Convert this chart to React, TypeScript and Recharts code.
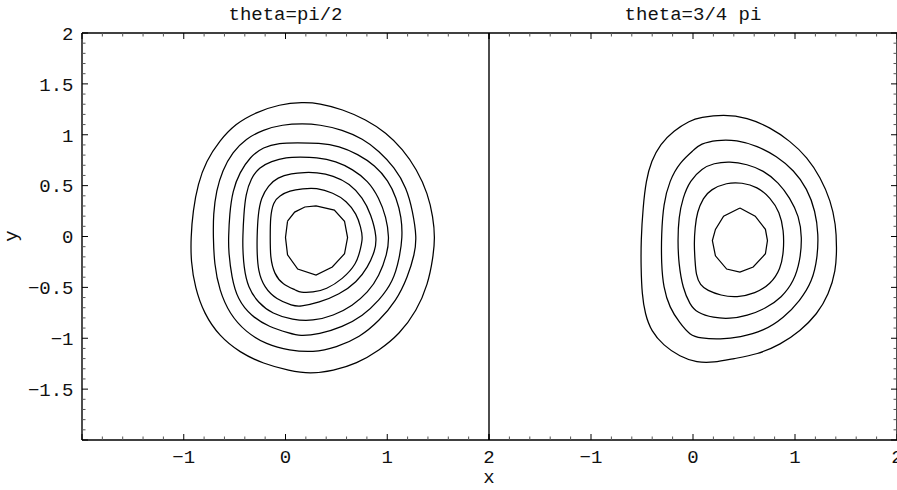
import React from 'react';
import { LineChart, Line, XAxis, YAxis } from 'recharts';

type Pt = [number, number];

// Contour levels for theta = pi/2, outermost first
const halfPiLevel1: Pt[] = [
  [0.17, 1.32], [0.33, 1.31], [0.56, 1.25], [0.79, 1.15], [0.99, 1.02], [1.15, 0.86], [1.29, 0.66],
  [1.4, 0.42], [1.45, 0.19], [1.47, -0.01], [1.45, -0.21], [1.4, -0.47], [1.29, -0.73], [1.12, -0.96],
  [0.92, -1.12], [0.7, -1.25], [0.47, -1.32], [0.24, -1.35], [0.04, -1.32], [-0.22, -1.25], [-0.45, -1.14],
  [-0.65, -0.98], [-0.8, -0.76], [-0.89, -0.5], [-0.93, -0.24], [-0.93, -0.01], [-0.91, 0.25], [-0.86, 0.52],
  [-0.78, 0.74], [-0.65, 0.94], [-0.49, 1.11], [-0.29, 1.22], [-0.06, 1.3],
];
const halfPiLevel2: Pt[] = [
  [0.17, 1.11], [0.33, 1.1], [0.56, 1.05], [0.76, 0.96], [0.92, 0.84], [1.07, 0.68], [1.19, 0.48],
  [1.25, 0.25], [1.29, -0.01], [1.27, -0.17], [1.2, -0.4], [1.09, -0.63], [0.92, -0.83], [0.73, -0.99],
  [0.5, -1.09], [0.27, -1.14], [0.04, -1.12], [-0.19, -1.06], [-0.39, -0.94], [-0.55, -0.76], [-0.65, -0.53],
  [-0.7, -0.27], [-0.71, -0.01], [-0.71, 0.22], [-0.68, 0.45], [-0.62, 0.65], [-0.52, 0.83], [-0.39, 0.96],
  [-0.22, 1.05], [-0.03, 1.1],
];
const halfPiLevel3: Pt[] = [
  [0.11, 0.92], [0.33, 0.92], [0.53, 0.89], [0.71, 0.81], [0.88, 0.7], [1.01, 0.55], [1.09, 0.38],
  [1.14, 0.19], [1.15, -0.01], [1.12, -0.21], [1.06, -0.44], [0.92, -0.63], [0.76, -0.78], [0.56, -0.89],
  [0.33, -0.96], [0.14, -0.98], [0.04, -0.95], [-0.16, -0.89], [-0.34, -0.78], [-0.47, -0.62], [-0.53, -0.4],
  [-0.56, -0.14], [-0.56, -0.01], [-0.55, 0.22], [-0.52, 0.45], [-0.45, 0.63], [-0.35, 0.78], [-0.22, 0.88],
  [-0.06, 0.92],
];
const halfPiLevel4: Pt[] = [
  [0.14, 0.78], [0.3, 0.78], [0.5, 0.74], [0.66, 0.66], [0.81, 0.55], [0.92, 0.38], [0.99, 0.19],
  [1.02, -0.01], [1.0, -0.17], [0.92, -0.39], [0.81, -0.55], [0.66, -0.68], [0.47, -0.78], [0.27, -0.83],
  [0.07, -0.82], [-0.13, -0.76], [-0.27, -0.65], [-0.37, -0.5], [-0.41, -0.3], [-0.42, -0.11], [-0.42, -0.01],
  [-0.41, 0.22], [-0.39, 0.42], [-0.34, 0.57], [-0.26, 0.68], [-0.14, 0.74], [0.01, 0.78],
];
const halfPiLevel5: Pt[] = [
  [0.19, 0.63], [0.3, 0.63], [0.47, 0.6], [0.63, 0.52], [0.76, 0.38], [0.84, 0.22], [0.9, -0.01],
  [0.88, -0.14], [0.81, -0.3], [0.7, -0.45], [0.53, -0.57], [0.33, -0.65], [0.14, -0.69], [0.07, -0.68],
  [-0.09, -0.62], [-0.21, -0.5], [-0.27, -0.34], [-0.28, -0.14], [-0.28, -0.01], [-0.27, 0.22], [-0.24, 0.38],
  [-0.17, 0.5], [-0.08, 0.58], [0.06, 0.62],
];
const halfPiLevel6: Pt[] = [
  [0.17, 0.47], [0.3, 0.48], [0.47, 0.43], [0.6, 0.35], [0.7, 0.22], [0.74, 0.09], [0.76, -0.01],
  [0.74, -0.11], [0.7, -0.27], [0.56, -0.42], [0.4, -0.52], [0.27, -0.55], [0.14, -0.55], [0.11, -0.53],
  [-0.03, -0.47], [-0.11, -0.37], [-0.15, -0.21], [-0.15, -0.01], [-0.15, 0.19], [-0.12, 0.34], [-0.06, 0.4],
  [0.04, 0.45],
];
const halfPiLevel7: Pt[] = [
  [0.02, 0.15], [0.09, 0.24], [0.19, 0.29], [0.3, 0.3], [0.48, 0.26], [0.58, 0.15], [0.61, -0.01],
  [0.58, -0.17], [0.46, -0.3], [0.3, -0.38], [0.12, -0.32], [0.02, -0.18], [0.0, -0.01],
];

// Contour levels for theta = 3/4 pi, outermost first
const threeQuarterLevel1: Pt[] = [
  [0.07, 1.17], [0.3, 1.2], [0.53, 1.17], [0.76, 1.07], [0.95, 0.94], [1.12, 0.78], [1.25, 0.58],
  [1.35, 0.35], [1.4, 0.12], [1.41, -0.11], [1.4, -0.34], [1.33, -0.57], [1.22, -0.76], [1.05, -0.93],
  [0.86, -1.06], [0.63, -1.16], [0.4, -1.2], [0.2, -1.24], [0.04, -1.24], [-0.13, -1.18], [-0.29, -1.07],
  [-0.41, -0.93], [-0.47, -0.76], [-0.5, -0.57], [-0.51, -0.3], [-0.51, -0.04], [-0.49, 0.29], [-0.46, 0.55],
  [-0.41, 0.74], [-0.32, 0.91], [-0.19, 1.04], [-0.03, 1.14],
];
const threeQuarterLevel2: Pt[] = [
  [0.07, 0.91], [0.23, 0.95], [0.43, 0.95], [0.63, 0.89], [0.82, 0.79], [0.99, 0.65], [1.12, 0.47],
  [1.2, 0.25], [1.23, 0.02], [1.22, -0.21], [1.17, -0.44], [1.05, -0.63], [0.89, -0.8], [0.69, -0.93],
  [0.46, -0.99], [0.27, -1.01], [0.07, -1.0], [-0.03, -0.97], [-0.13, -0.85], [-0.23, -0.7], [-0.29, -0.5],
  [-0.31, -0.27], [-0.31, 0.02], [-0.29, 0.32], [-0.23, 0.55], [-0.13, 0.73], [0.02, 0.86],
];
const threeQuarterLevel3: Pt[] = [
  [0.09, 0.67], [0.2, 0.72], [0.36, 0.74], [0.53, 0.71], [0.69, 0.65], [0.84, 0.53], [0.95, 0.38],
  [1.04, 0.2], [1.07, -0.01], [1.05, -0.24], [0.99, -0.44], [0.87, -0.6], [0.71, -0.71], [0.53, -0.78],
  [0.36, -0.81], [0.2, -0.8], [0.04, -0.75], [-0.03, -0.67], [-0.1, -0.51], [-0.14, -0.27], [-0.15, -0.04],
  [-0.14, 0.19], [-0.1, 0.38], [-0.03, 0.55],
];
const threeQuarterLevel4: Pt[] = [
  [0.17, 0.46], [0.33, 0.53], [0.48, 0.53], [0.63, 0.49], [0.76, 0.38], [0.85, 0.24], [0.89, 0.06],
  [0.89, -0.14], [0.86, -0.32], [0.76, -0.47], [0.61, -0.56], [0.43, -0.6], [0.27, -0.58], [0.14, -0.53],
  [0.07, -0.48], [0.03, -0.38], [0.02, -0.24], [0.01, -0.07], [0.02, 0.09], [0.04, 0.24], [0.1, 0.38],
];
const threeQuarterLevel5: Pt[] = [
  [0.46, 0.28], [0.61, 0.2], [0.71, 0.07], [0.73, -0.04], [0.71, -0.17], [0.59, -0.3], [0.46, -0.35],
  [0.33, -0.32], [0.22, -0.19], [0.19, -0.04], [0.22, 0.07], [0.3, 0.2],
];

const halfPiLevels = [
  halfPiLevel1, halfPiLevel2, halfPiLevel3, halfPiLevel4, halfPiLevel5, halfPiLevel6, halfPiLevel7,
];
const threeQuarterLevels = [
  threeQuarterLevel1, threeQuarterLevel2, threeQuarterLevel3, threeQuarterLevel4, threeQuarterLevel5,
];

// Axis range and tick labels
const domain: [number, number] = [-2, 2];
const xTickLabels = [-1, 0, 1, 2];
const yTickLabels = [-1.5, -1, -0.5, 0, 0.5, 1, 1.5, 2];
const xMinorStep = 0.2;
const yMinorStep = 0.1;

const panelTitles = ['theta=pi/2', 'theta=3/4 pi'];
const xAxisTitle = 'x';
const yAxisTitle = 'y';

const round1 = (v: number) => Math.round(v * 10) / 10;
const stepTicks = (step: number) => {
  const n = Math.round((domain[1] - domain[0]) / step);
  return Array.from({ length: n + 1 }, (_, i) => round1(domain[0] + i * step));
};
const xTicks = stepTicks(xMinorStep);
const yTicks = stepTicks(yMinorStep);

const isMajorX = (v: number) => Math.abs(v - Math.round(v)) < 1e-9;
const isMajorY = (v: number) => Math.abs(v * 2 - Math.round(v * 2)) < 1e-9;
const fmt = (v: number) => (v < 0 ? '\u2212' + String(-v) : String(v));

const MONO = '"Liberation Mono", "DejaVu Sans Mono", "Courier New", monospace';
const FONT_SIZE = 19;
const TEXT_COLOR = '#111';
const MAJOR_LEN = 6;
const MINOR_LEN = 3.5;
const MINOR_COLOR = '#555';

const toPoints = (ring: Pt[]) => ring.map(([x, y]) => ({ x, y }));
const closeRing = (ring: Pt[]) => toPoints([...ring, ring[0]]);

const bottomTick = (props: any) => {
  const { x, y, payload } = props;
  const v = payload.value;
  const major = isMajorX(v);
  return (
    <g>
      <line x1={x} x2={x} y1={y} y2={y - (major ? MAJOR_LEN : MINOR_LEN)} stroke={major ? '#000' : MINOR_COLOR} strokeWidth={1} />
      {xTickLabels.includes(v) && (
        <text x={x} y={y + 23} textAnchor="middle" fontFamily={MONO} fontSize={FONT_SIZE} fill={TEXT_COLOR}>
          {fmt(v)}
        </text>
      )}
    </g>
  );
};

const topTick = (props: any) => {
  const { x, y, payload } = props;
  const major = isMajorX(payload.value);
  return (
    <line x1={x} x2={x} y1={y} y2={y + (major ? MAJOR_LEN : MINOR_LEN)} stroke={major ? '#000' : MINOR_COLOR} strokeWidth={1} />
  );
};

const leftTick = (props: any) => {
  const { x, y, payload } = props;
  const v = payload.value;
  const major = isMajorY(v);
  return (
    <g>
      <line x1={x} x2={x + (major ? MAJOR_LEN : MINOR_LEN)} y1={y} y2={y} stroke={major ? '#000' : MINOR_COLOR} strokeWidth={1} />
      {yTickLabels.includes(v) && (
        <text x={x - 8.5} y={y} dy="0.36em" textAnchor="end" fontFamily={MONO} fontSize={FONT_SIZE} fill={TEXT_COLOR}>
          {fmt(v)}
        </text>
      )}
    </g>
  );
};

const rightTick = (props: any) => {
  const { x, y, payload } = props;
  const major = isMajorY(payload.value);
  return (
    <line x1={x} x2={x - (major ? MAJOR_LEN : MINOR_LEN)} y1={y} y2={y} stroke={major ? '#000' : MINOR_COLOR} strokeWidth={1} />
  );
};

const noTick = () => <g />;

const frame = { stroke: '#000', strokeWidth: 1.4 };

type PanelProps = {
  levels: Pt[][];
  width: number;
  margin: { top: number; right: number; bottom: number; left: number };
  outerLeft: boolean;
  outerRight: boolean;
  drawRightEdge: boolean;
};

// Each axis box is 1px deep so the axis still renders; margins absorb that pixel.
function ContourPanel({ levels, width, margin, outerLeft, outerRight, drawRightEdge }: PanelProps) {
  return (
    <LineChart width={width} height={490} margin={margin}>
      <XAxis
        xAxisId="b"
        dataKey="x"
        type="number"
        domain={domain}
        ticks={xTicks}
        interval={0}
        allowDataOverflow
        height={1}
        tickSize={0}
        tickMargin={0}
        tickLine={false}
        axisLine={frame}
        tick={bottomTick}
      />
      <XAxis
        xAxisId="t"
        orientation="top"
        dataKey="x"
        type="number"
        domain={domain}
        ticks={xTicks}
        interval={0}
        allowDataOverflow
        height={1}
        tickSize={0}
        tickMargin={0}
        tickLine={false}
        axisLine={frame}
        tick={topTick}
      />
      <YAxis
        yAxisId="l"
        type="number"
        domain={domain}
        ticks={yTicks}
        interval={0}
        allowDataOverflow
        width={1}
        tickSize={0}
        tickMargin={0}
        tickLine={false}
        axisLine={frame}
        tick={outerLeft ? leftTick : noTick}
      />
      <YAxis
        yAxisId="r"
        orientation="right"
        type="number"
        domain={domain}
        ticks={yTicks}
        interval={0}
        allowDataOverflow
        width={1}
        tickSize={0}
        tickMargin={0}
        tickLine={false}
        axisLine={drawRightEdge ? frame : false}
        tick={outerRight ? rightTick : noTick}
      />
      {levels.map((ring, i) => {
        const innermost = i === levels.length - 1;
        return (
          <Line
            key={i}
            xAxisId="b"
            yAxisId="l"
            data={innermost ? closeRing(ring) : toPoints(ring)}
            dataKey="y"
            type={innermost ? 'linear' : 'basisClosed'}
            stroke="#000"
            strokeWidth={1.25}
            dot={false}
            activeDot={false}
            isAnimationActive={false}
          />
        );
      })}
    </LineChart>
  );
}

export default function App() {
  return (
    <div style={{ position: 'absolute', left: 0, top: 0, width: 897, height: 490, overflow: 'hidden', background: '#fff' }}>
      <div style={{ position: 'absolute', left: 0, top: 0 }}>
        <ContourPanel
          levels={halfPiLevels}
          width={520}
          margin={{ top: 32, right: 30, bottom: 49, left: 81 }}
          outerLeft
          outerRight={false}
          drawRightEdge={false}
        />
      </div>
      <div style={{ position: 'absolute', left: 480, top: 0 }}>
        <ContourPanel
          levels={threeQuarterLevels}
          width={420}
          margin={{ top: 32, right: 2, bottom: 49, left: 8 }}
          outerLeft={false}
          outerRight
          drawRightEdge
        />
      </div>
      <svg
        width={897}
        height={490}
        style={{ position: 'absolute', left: 0, top: 0, pointerEvents: 'none' }}
      >
        <text x={285.5} y={20} textAnchor="middle" fontFamily={MONO} fontSize={FONT_SIZE} fill={TEXT_COLOR}>
          {panelTitles[0]}
        </text>
        <text x={693} y={20} textAnchor="middle" fontFamily={MONO} fontSize={FONT_SIZE} fill={TEXT_COLOR}>
          {panelTitles[1]}
        </text>
        <text x={489} y={483} textAnchor="middle" fontFamily={MONO} fontSize={FONT_SIZE} fill={TEXT_COLOR}>
          {xAxisTitle}
        </text>
        <text
          x={17}
          y={236}
          textAnchor="middle"
          transform="rotate(-90 17 236)"
          fontFamily={MONO}
          fontSize={FONT_SIZE}
          fill={TEXT_COLOR}
        >
          {yAxisTitle}
        </text>
      </svg>
    </div>
  );
}
